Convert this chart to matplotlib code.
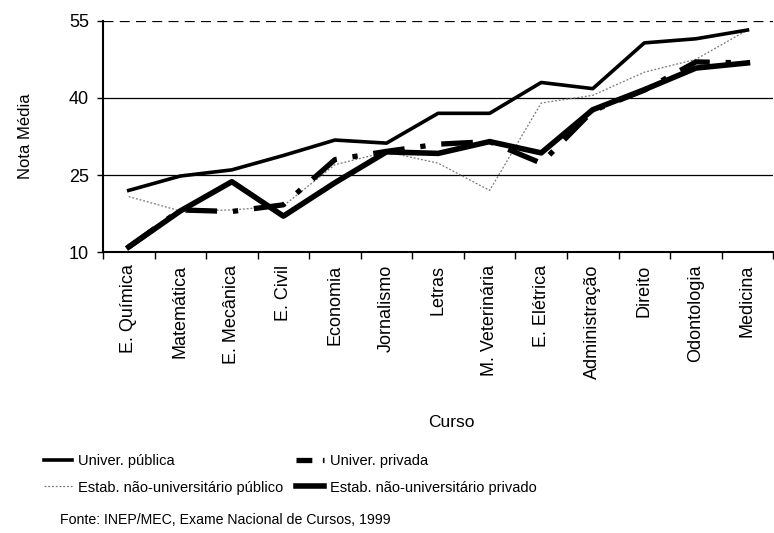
import numpy as np
import matplotlib.pyplot as plt
from matplotlib.lines import Line2D

plt.rcParams['font.family'] = ['Liberation Sans', 'DejaVu Sans']

cursos = ['E. Química', 'Matemática', 'E. Mecânica', 'E. Civil', 'Economia',
          'Jornalismo', 'Letras', 'M. Veterinária', 'E. Elétrica',
          'Administração', 'Direito', 'Odontologia', 'Medicina']

univ_publica = [22, 24.8, 26, 28.8, 31.8, 31.2, 37, 37, 43, 41.8, 50.7, 51.5, 53.2]
univ_privada = [11, 18.2, 17.9, 19.2, 28, 29.6, 31, 31.5, 27.3, 37.5, 41.5, 47, 46.8]
estab_publico = [20.8, 18, 18.2, 19, 27, 29.5, 27.3, 22, 39, 40.5, 45, 47.5, 53.2]
estab_privado = [11, 18, 23.7, 17, 23.5, 29.5, 29.2, 31.5, 29.3, 37.7, 41.6, 45.8, 46.8]

yticks = [10, 25, 40, 55]

x = np.arange(len(cursos))

fig = plt.figure(figsize=(7.74, 5.33), dpi=100)
ax = fig.add_axes([0.133, 0.527, 0.866, 0.434])

# linhas de grade
ax.axhline(40, color='black', lw=0.9, zorder=1)
ax.axhline(25, color='black', lw=0.9, zorder=1)
ax.axhline(55, color='black', lw=0.9, ls=(0, (8, 5)), zorder=1)

ax.plot(x, estab_publico, color='#777777', lw=0.9, ls=(0, (1.5, 1.5)), zorder=2)
ax.plot(x, univ_publica, color='black', lw=2.6, zorder=3)
ax.plot(x, univ_privada, color='black', lw=3.8, ls=(0, (6, 3, 1, 3)), zorder=3)
ax.plot(x, estab_privado, color='black', lw=4.0, zorder=4)

ax.set_xlim(-0.5, len(cursos) - 0.5)
ax.set_ylim(10, 55)
ax.set_yticks(yticks)
ax.tick_params(axis='y', labelsize=13, length=4, width=1, pad=6)

ax.set_xticks(x)
ax.set_xticklabels(cursos, rotation=90, fontsize=13)
ax.tick_params(axis='x', which='major', length=0, pad=9)
ax.set_xticks(np.arange(len(cursos) + 1) - 0.5, minor=True)
ax.tick_params(axis='x', which='minor', length=5, width=1)

for s in ['top', 'right']:
    ax.spines[s].set_visible(False)
ax.spines['left'].set_linewidth(1.5)
ax.spines['bottom'].set_linewidth(1.5)

ax.set_ylabel('Nota Média', fontsize=12, labelpad=26)
fig.text(0.583, 0.207, 'Curso', fontsize=12.5, ha='center', va='center')

handles = [
    Line2D([], [], color='black', lw=2.6),
    Line2D([], [], color='#777777', lw=0.9, ls=(0, (1.5, 1.5))),
    Line2D([], [], color='black', lw=3.8, ls=(0, (3, 2, 1, 2))),
    Line2D([], [], color='black', lw=4.0),
]
labels = ['Univer. pública', 'Estab. não-universitário público',
          'Univer. privada', 'Estab. não-universitário privado']
fig.legend(handles, labels, loc='upper left', bbox_to_anchor=(0.057, 0.148),
           ncol=2, frameon=False, fontsize=10.5, handlelength=1.9,
           handletextpad=0.4, columnspacing=0.9, labelspacing=0.85,
           borderaxespad=0, borderpad=0)

fig.text(0.078, 0.025, 'Fonte: INEP/MEC, Exame Nacional de Cursos, 1999',
         fontsize=10.2, ha='left', va='center')

fig.savefig('out.png', dpi=100)
